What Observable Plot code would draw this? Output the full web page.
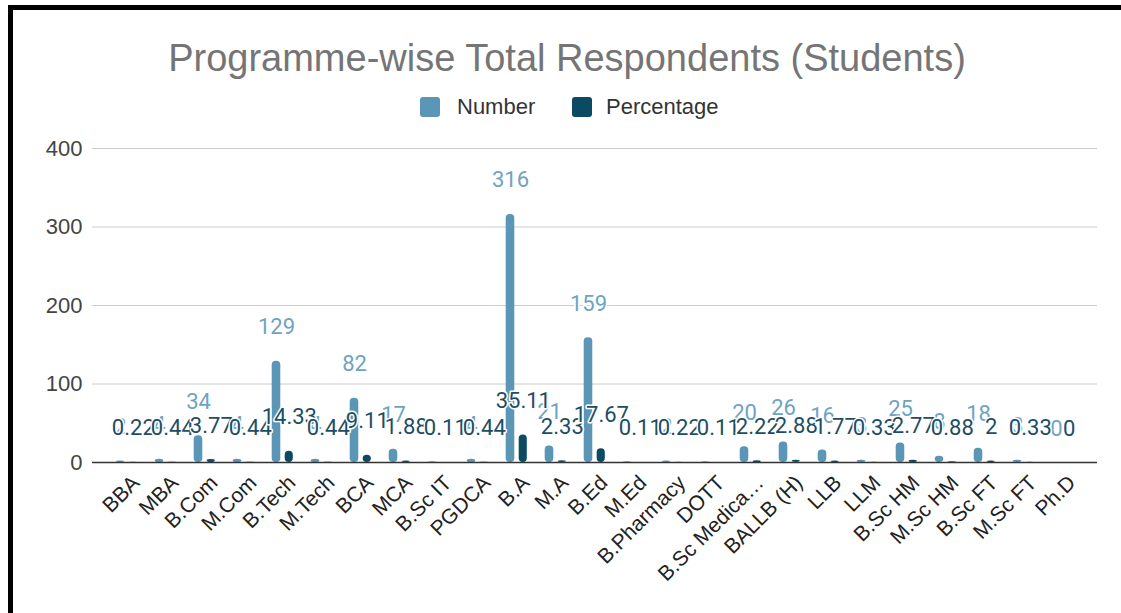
<!DOCTYPE html>
<html>
<head>
<meta charset="utf-8">
<script src="https://cdn.jsdelivr.net/npm/d3@7"></script>
<script src="https://cdn.jsdelivr.net/npm/@observablehq/plot@0.6"></script>
<style>
  body { margin: 0; background: #fff; }
  #frame { position: relative; width: 1121px; height: 613px; overflow: hidden; background: #fff;
           font-family: "Liberation Sans", Arial, sans-serif; }
  .edge-top { position: absolute; left: 8px; top: 5px; width: 1113px; height: 5px; background: #000; }
  .edge-left { position: absolute; left: 8px; top: 5px; width: 5px; height: 608px; background: #000; }
  #title { position: absolute; left: 13px; width: 1108px; top: 36px; text-align: center;
           font-size: 38px; line-height: 44px; color: #757575; white-space: nowrap; }
  .key { position: absolute; top: 97px; width: 20px; height: 20px; border-radius: 3px; }
  .key-label { position: absolute; top: 94px; font-size: 22px; line-height: 26px; color: #333; }
  #chart { position: absolute; left: 0; top: 120px; }
</style>
</head>
<body>
<div id="frame">
  <div class="edge-top"></div>
  <div class="edge-left"></div>
  <div id="title">Programme-wise Total Respondents (Students)</div>
  <div class="key" style="left:420px;background:#5b96b7"></div>
  <div class="key-label" style="left:457px">Number</div>
  <div class="key" style="left:572px;background:#0c4a64"></div>
  <div class="key-label" style="left:606px">Percentage</div>
  <div id="chart"></div>
</div>
<script>
// Programmes surveyed, in display order
const programmes = ["BBA", "MBA", "B.Com", "M.Com", "B.Tech", "M.Tech", "BCA", "MCA", "B.Sc IT", "PGDCA",
  "B.A", "M.A", "B.Ed", "M.Ed", "B.Pharmacy", "DOTT", "B.Sc Medica…", "BALLB (H)", "LLB", "LLM",
  "B.Sc HM", "M.Sc HM", "B.Sc FT", "M.Sc FT", "Ph.D"];

// Number of student respondents per programme
const numbers = [2, 4, 34, 4, 129, 4, 82, 17, 1, 4, 316, 21, 159, 1, 2, 1, 20, 26, 16, 3, 25, 8, 18, 3, 0];

// Share of all respondents (%)
const percentages = [0.22, 0.44, 3.77, 0.44, 14.33, 0.44, 9.11, 1.88, 0.11, 0.44, 35.11, 2.33, 17.67, 0.11,
  0.22, 0.11, 2.22, 2.88, 1.77, 0.33, 2.77, 0.88, 2, 0.33, 0];

const yTicks = [0, 100, 200, 300, 400];

const rows = programmes.map((p, i) => ({programme: p, number: numbers[i], percentage: percentages[i]}));

const numberColor = "#5b96b7";
const percentColor = "#0c4a64";
const labelFont = "Roboto, 'Liberation Sans', sans-serif";

const chart = Plot.plot({
  width: 1121,
  height: 493,
  marginTop: 28,
  marginBottom: 151,
  marginLeft: 92,
  marginRight: 24,
  style: {fontFamily: "'Liberation Sans', Arial, sans-serif", background: "transparent", overflow: "visible"},
  x: {type: "band", domain: programmes, range: [102, 1086.5], padding: 0, label: null},
  y: {domain: [0, 400], label: null},
  marks: [
    Plot.ruleY(yTicks.filter(d => d > 0), {stroke: "#cccccc", strokeWidth: 1}),
    Plot.axisY({ticks: yTicks, tickSize: 0, tickPadding: 10, fontSize: 22, fill: "#444", label: null,
      tickFormat: d => String(d)}),
    Plot.axisX({tickSize: 0, tickRotate: -45, fontSize: 21, fill: "#222", textAnchor: "end", label: null,
      dx: 9, dy: 5}),
    Plot.barY(rows, {x: "programme", y: "number", fill: numberColor, insetLeft: 8.7, insetRight: 21.7, rx: 4}),
    Plot.barY(rows, {x: "programme", y: "percentage", fill: percentColor, insetLeft: 21.7, insetRight: 9.2, rx: 4}),
    Plot.ruleY([0], {stroke: "#333", strokeWidth: 1.5}),
    Plot.text(rows, {x: "programme", y: "number", text: d => String(d.number), dx: -6.5, dy: -34,
      fill: "#6ea3c2", stroke: "white", strokeWidth: 3, fontSize: 22, fontFamily: labelFont}),
    Plot.text(rows, {x: "programme", y: "percentage", text: d => String(d.percentage), dx: 6.3, dy: -34,
      fill: "#1e4d63", stroke: "white", strokeWidth: 3, fontSize: 22, fontFamily: labelFont})
  ]
});
document.getElementById("chart").append(chart);
</script>
</body>
</html>
